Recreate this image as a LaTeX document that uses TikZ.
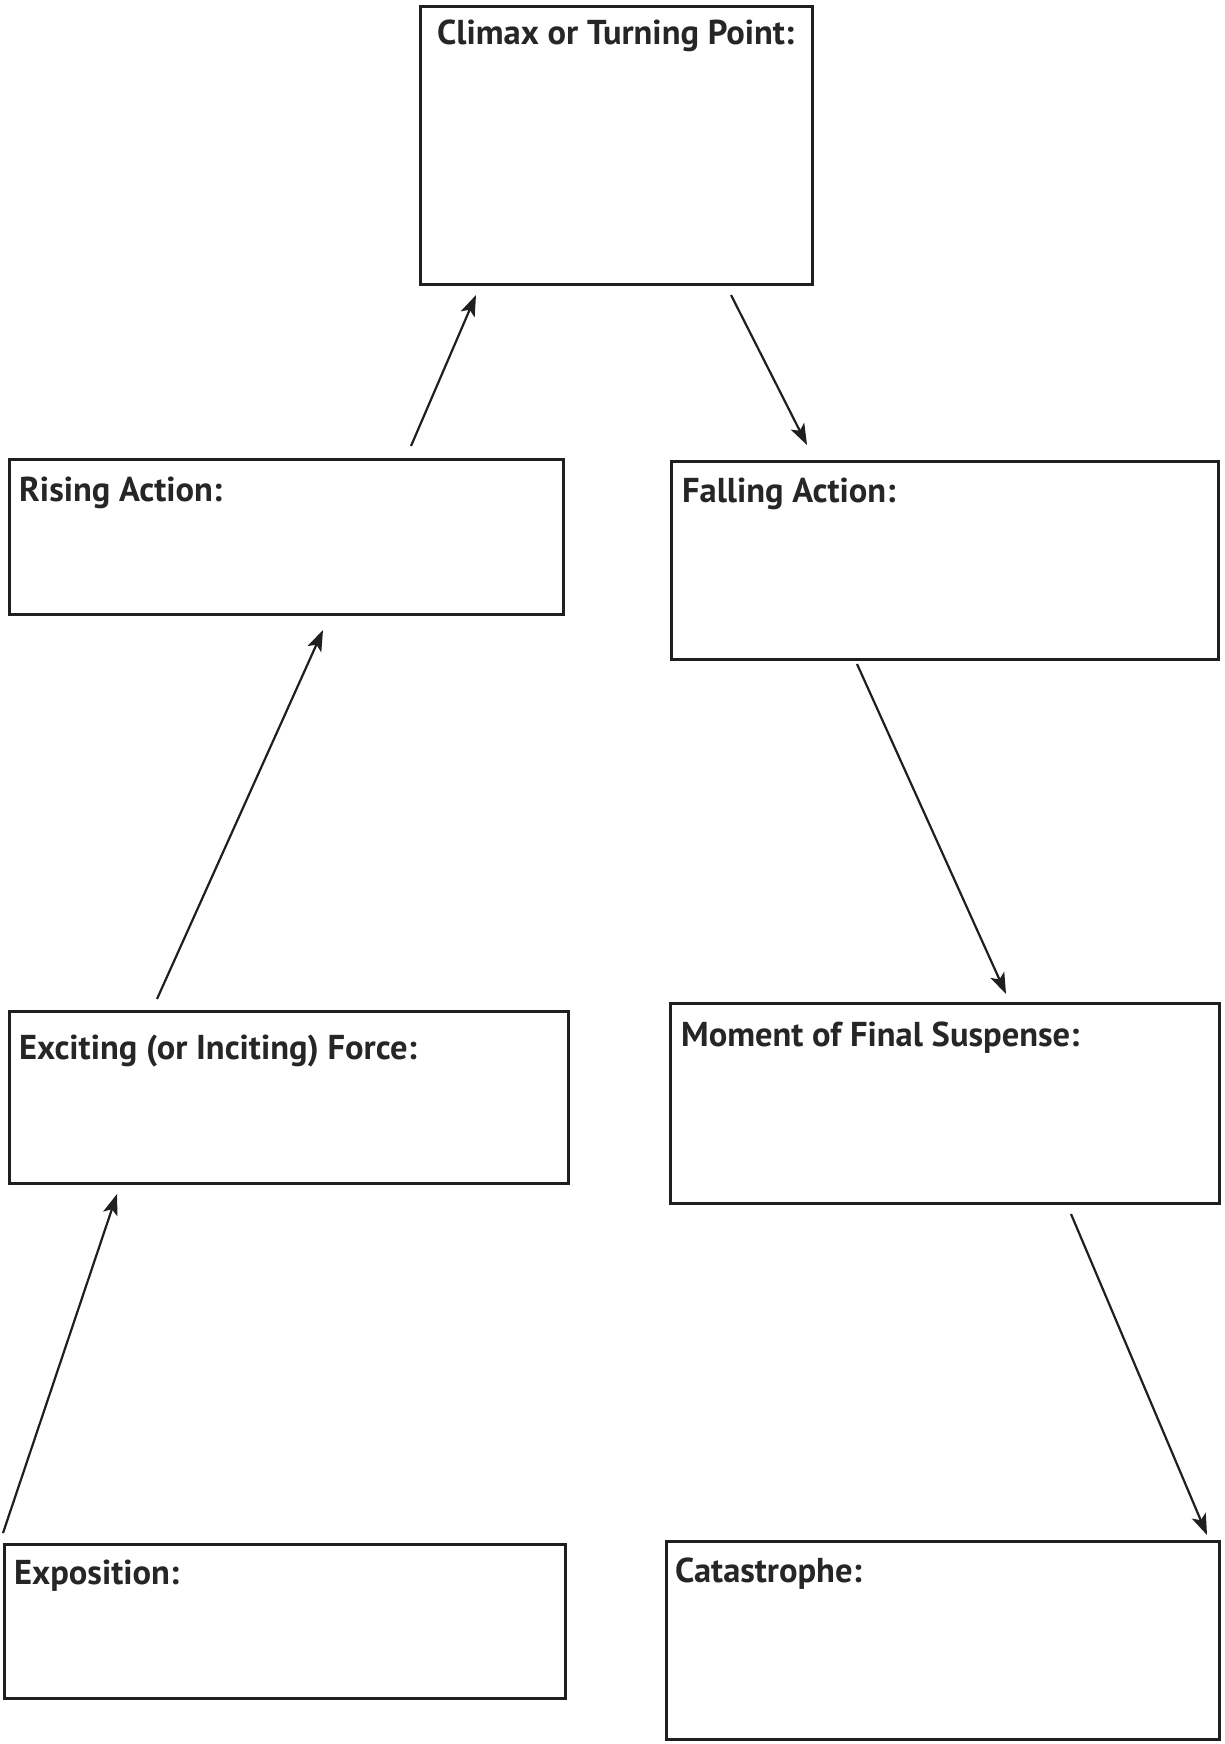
\documentclass[tikz,border=0pt]{standalone}
\usepackage{fontspec}
\setmainfont{PT Sans}
\usetikzlibrary{arrows.meta}
\begin{document}
\begin{tikzpicture}[x=1pt,y=-1pt,
  box/.style={draw=black!88,line width=2.6pt,inner sep=0pt,anchor=north west},
  lbl/.style={anchor=base west,inner sep=0pt,font=\fontsize{34.5}{40}\selectfont\bfseries,text=black!85},
  arr/.style={draw=black!88,line width=2.2pt,-{Stealth[length=21pt,width=15pt,inset=5pt]}}]
\useasboundingbox (0,0) rectangle (1225,1744);
\fill[white] (0,0) rectangle (1225,1744);
% boxes
\node[box,minimum width=392pt,minimum height=278pt] (climax) at (419,5) {};
\node[box,minimum width=554pt,minimum height=155pt] (rising) at (8,458) {};
\node[box,minimum width=547pt,minimum height=198pt] (falling) at (670,460) {};
\node[box,minimum width=559pt,minimum height=172pt] (exciting) at (8,1010) {};
\node[box,minimum width=549pt,minimum height=200pt] (moment) at (669,1002) {};
\node[box,minimum width=561pt,minimum height=154pt] (expo) at (3,1543) {};
\node[box,minimum width=553pt,minimum height=198pt] (cata) at (665,1540) {};
% labels
\node[lbl] (tclimax) at (437,45) {Climax or Turning Point:};
\node[lbl] (trising) at (19,501) {Rising Action:};
\node[lbl] (tfalling) at (682,502) {Falling Action:};
\node[lbl] (texciting) at (19,1059) {Exciting (or Inciting) Force:};
\node[lbl] (tmoment) at (681,1046) {Moment of Final Suspense:};
\node[lbl] (texpo) at (14,1584) {Exposition:};
\node[lbl] (tcata) at (675,1582) {Catastrophe:};
% arrow end points
\coordinate (a1s) at (411,446); \coordinate (a1e) at (476,295);
\coordinate (a2s) at (731,295); \coordinate (a2e) at (807,445);
\coordinate (a3s) at (157,999); \coordinate (a3e) at (323,630);
\coordinate (a4s) at (857,664); \coordinate (a4e) at (1006,994);
\coordinate (a5s) at (3,1533);  \coordinate (a5e) at (117,1194);
\coordinate (a6s) at (1071,1214); \coordinate (a6e) at (1207,1535);
\draw[arr] (a1s) -- (a1e);
\draw[arr] (a2s) -- (a2e);
\draw[arr] (a3s) -- (a3e);
\draw[arr] (a4s) -- (a4e);
\draw[arr] (a5s) -- (a5e);
\draw[arr] (a6s) -- (a6e);
\end{tikzpicture}
\end{document}
